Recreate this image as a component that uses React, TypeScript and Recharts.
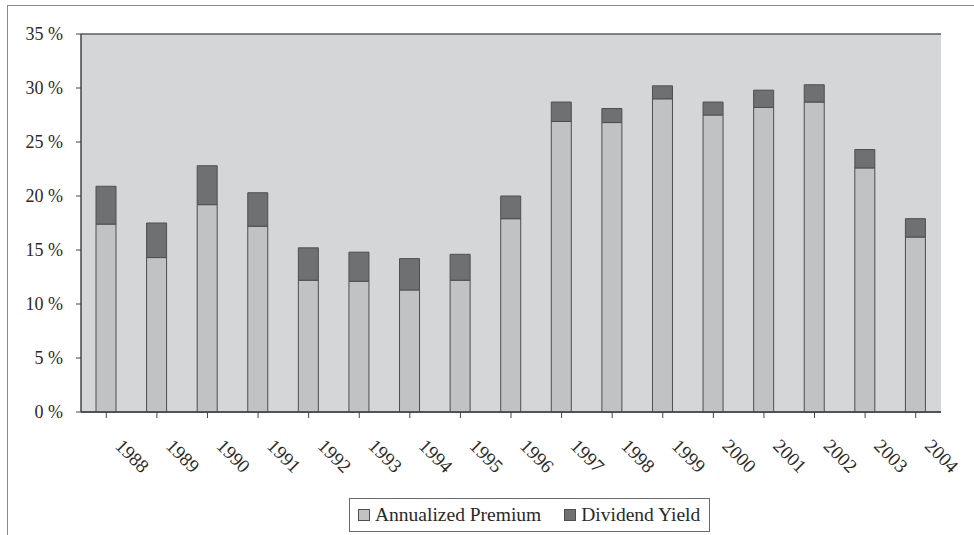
import React from "react";
import {
  BarChart,
  Bar,
  XAxis,
  YAxis,
  CartesianGrid,
  Legend,
} from "recharts";

const years = [
  "1988", "1989", "1990", "1991", "1992", "1993", "1994", "1995", "1996",
  "1997", "1998", "1999", "2000", "2001", "2002", "2003", "2004",
];

const annualizedPremium = [
  17.4, 14.3, 19.2, 17.2, 12.2, 12.1, 11.3, 12.2, 17.9,
  26.9, 26.8, 29.0, 27.5, 28.2, 28.7, 22.6, 16.2,
];

const dividendYield = [
  3.5, 3.2, 3.6, 3.1, 3.0, 2.7, 2.9, 2.4, 2.1,
  1.8, 1.3, 1.2, 1.2, 1.6, 1.6, 1.7, 1.7,
];

const yTicks = [0, 5, 10, 15, 20, 25, 30, 35];

const data = years.map((year, i) => ({
  year,
  premium: annualizedPremium[i],
  dividend: dividendYield[i],
}));

const FONT = "'Liberation Serif', 'Times New Roman', serif";
const PREMIUM_FILL = "#c1c2c4";
const DIVIDEND_FILL = "#6f7072";
const EDGE = "#4e4e4e";

function YearTick({ x, y, payload }: { x?: number; y?: number; payload?: { value: string } }) {
  return (
    <g transform={`translate(${x},${y})`}>
      <text
        x={8}
        y={29}
        transform="rotate(45, 8, 29)"
        textAnchor="start"
        fontFamily={FONT}
        fontSize={19}
        fill="#2a2a2a"
      >
        {payload?.value}
      </text>
    </g>
  );
}

function LegendBox() {
  const items = [
    { label: "Annualized Premium", color: PREMIUM_FILL },
    { label: "Dividend Yield", color: DIVIDEND_FILL },
  ];
  return (
    <div
      style={{
        boxSizing: "border-box",
        height: 34,
        border: "1px solid #6a6a6a",
        display: "flex",
        alignItems: "center",
        paddingLeft: 8,
        fontFamily: FONT,
        fontSize: 19.5,
        color: "#2a2a2a",
        background: "#fff",
      }}
    >
      {items.map((it, i) => (
        <span
          key={it.label}
          style={{ display: "flex", alignItems: "center", marginLeft: i ? 23 : 0 }}
        >
          <span
            style={{
              width: 10,
              height: 10,
              background: it.color,
              border: `1px solid ${EDGE}`,
              marginRight: 5,
              display: "inline-block",
            }}
          />
          {it.label}
        </span>
      ))}
    </div>
  );
}

export default function App() {
  return (
    <div
      style={{
        position: "absolute",
        left: 0,
        top: 0,
        width: 974,
        height: 535,
        overflow: "hidden",
        background: "#fff",
      }}
    >
      <div
        style={{
          position: "absolute",
          left: 7,
          top: 5,
          right: -2,
          bottom: -2,
          borderLeft: "1px solid #8a8a8a",
          borderTop: "1px solid #8a8a8a",
        }}
      />
      <BarChart
        width={974}
        height={535}
        data={data}
        margin={{ top: 34, right: 33, left: 0, bottom: 3 }}
        style={{ position: "absolute", left: 0, top: 0 }}
      >
        <CartesianGrid
          vertical={false}
          stroke="#5c5c5c"
          strokeWidth={1.5}
          fill="#d5d6d8"
        />
        <XAxis
          dataKey="year"
          height={86}
          interval={0}
          tickSize={6}
          tickMargin={0}
          axisLine={{ stroke: "#444", strokeWidth: 1.5 }}
          tickLine={{ stroke: "#444" }}
          tick={<YearTick />}
        />
        <YAxis
          yAxisId="left"
          width={81}
          domain={[0, 35]}
          ticks={yTicks}
          tickSize={5}
          tickMargin={13}
          tickFormatter={(v: number) => `${v} %`}
          axisLine={{ stroke: "#444", strokeWidth: 1.5 }}
          tickLine={{ stroke: "#444" }}
          tick={{ fontFamily: FONT, fontSize: 18, fill: "#2a2a2a" }}
        />
        <YAxis
          yAxisId="right"
          orientation="right"
          width={0}
          domain={[0, 35]}
          tick={false}
          tickLine={false}
          axisLine={{ stroke: "#6a6a6a", strokeWidth: 1.5 }}
        />
        <Legend
          verticalAlign="bottom"
          content={<LegendBox />}
          wrapperStyle={{ left: 349, width: 361, bottom: 3, height: 34 }}
        />
        <Bar
          yAxisId="left"
          dataKey="premium"
          name="Annualized Premium"
          stackId="a"
          barSize={20}
          fill={PREMIUM_FILL}
          stroke={EDGE}
          strokeWidth={1}
          isAnimationActive={false}
        />
        <Bar
          yAxisId="left"
          dataKey="dividend"
          name="Dividend Yield"
          stackId="a"
          barSize={20}
          fill={DIVIDEND_FILL}
          stroke={EDGE}
          strokeWidth={1}
          isAnimationActive={false}
        />
      </BarChart>
    </div>
  );
}
